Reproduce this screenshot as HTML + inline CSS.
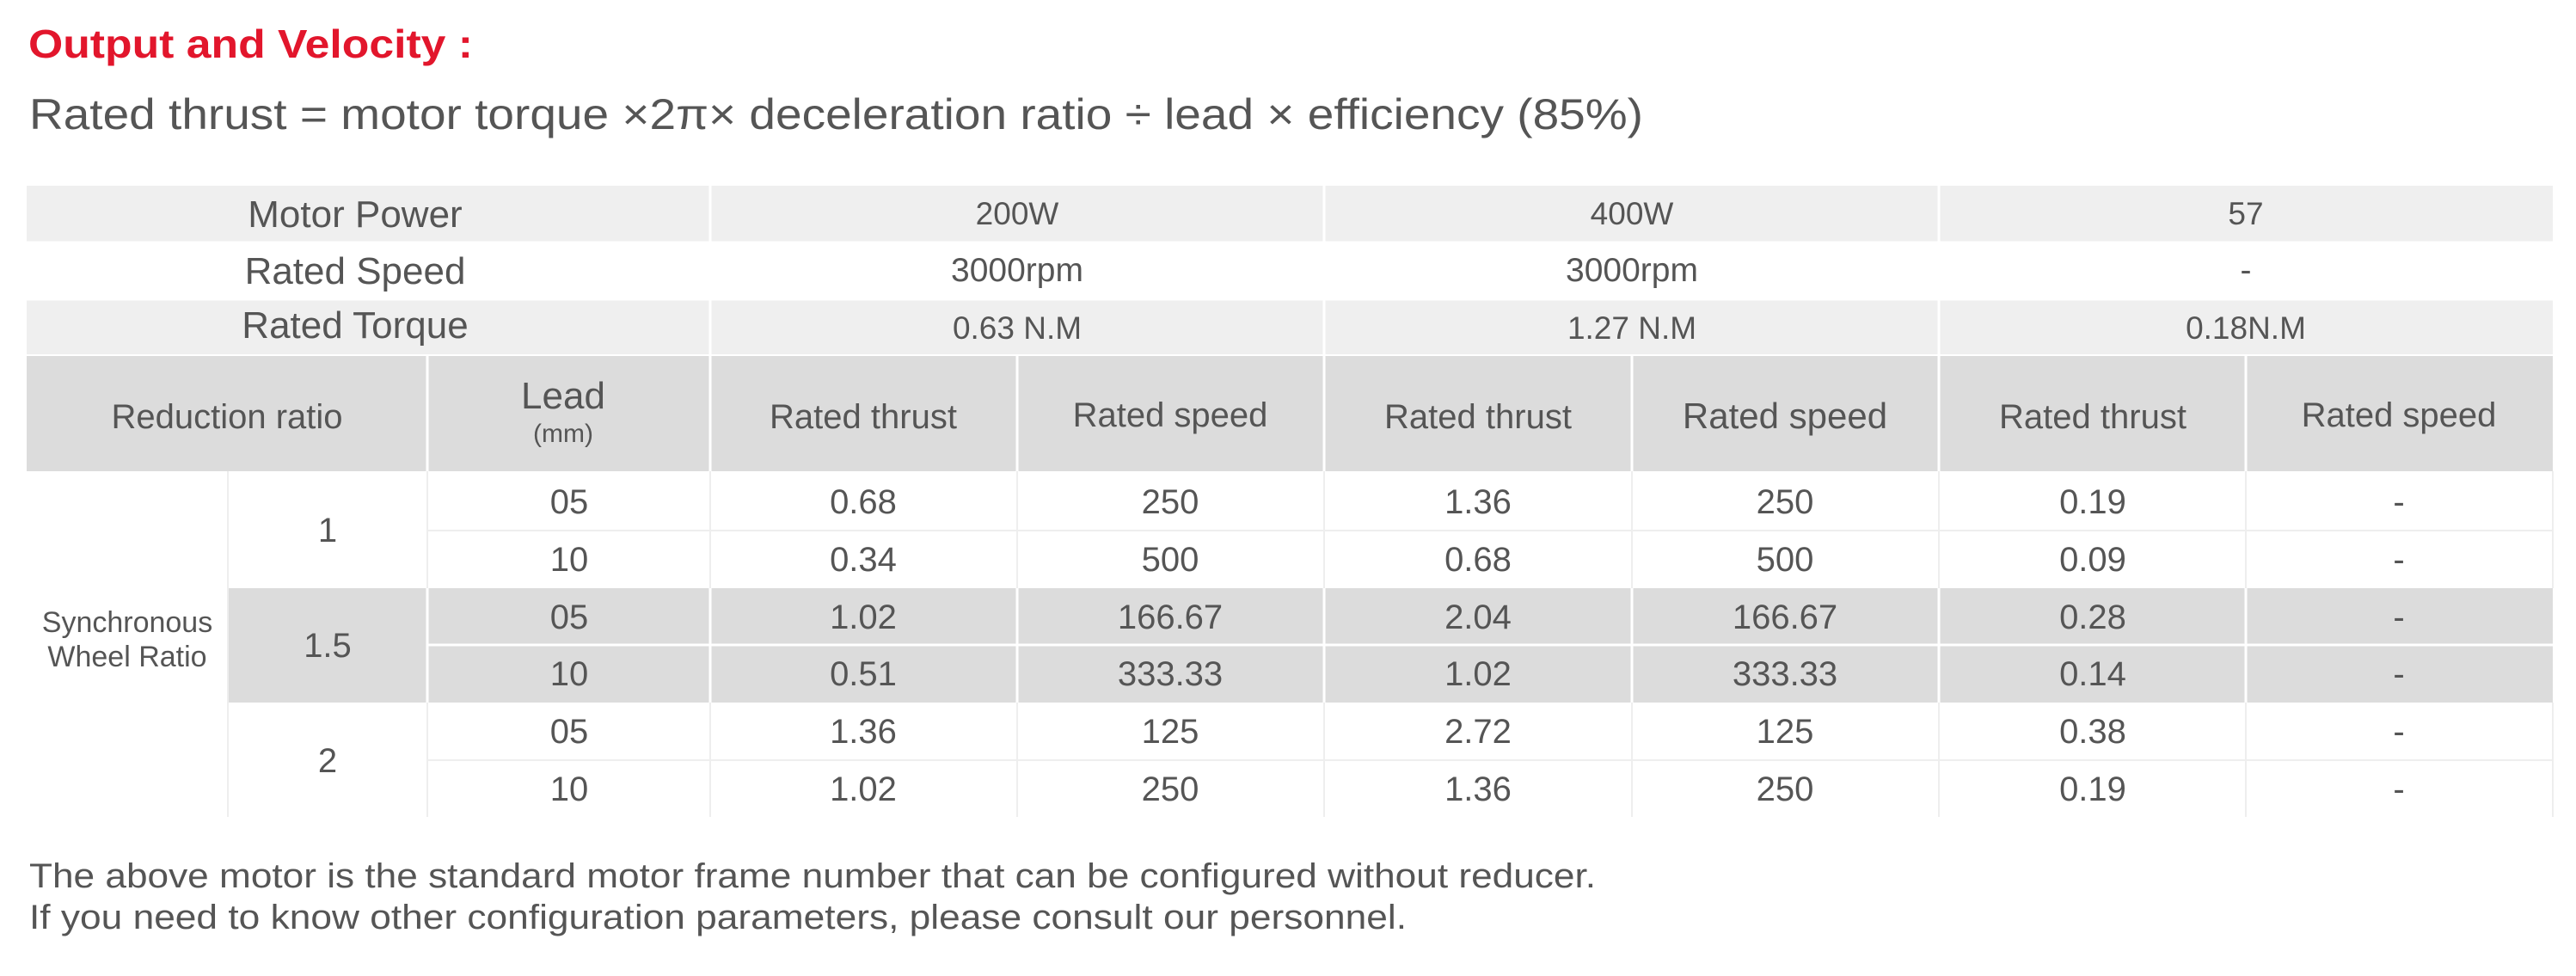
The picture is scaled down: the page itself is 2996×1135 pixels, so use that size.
<!DOCTYPE html>
<html><head><meta charset="utf-8"><style>
html,body{margin:0;padding:0;background:#fff;width:2996px;height:1135px;overflow:hidden}
svg text{font-family:"Liberation Sans",sans-serif;fill:#555}
</style></head><body>
<svg width="2996" height="1135" viewBox="0 0 2996 1135" xmlns="http://www.w3.org/2000/svg">
<rect width="2996" height="1135" fill="#fff"/>
<text x="33" y="67" font-size="46" font-weight="bold" style="fill:#e2162c" textLength="517" lengthAdjust="spacingAndGlyphs">Output and Velocity :</text>
<text x="34" y="150" font-size="50" textLength="1877" lengthAdjust="spacingAndGlyphs">Rated thrust = motor torque ×2π× deceleration ratio ÷ lead × efficiency (85%)</text>

<rect x="31" y="216" width="2938" height="66" fill="#efefef"/>
<rect x="31" y="282" width="2938" height="66" fill="#fff"/>
<rect x="31" y="348" width="2938" height="64" fill="#efefef"/>
<rect x="31" y="414" width="2938" height="134" fill="#dcdcdc"/>
<rect x="265" y="684" width="2704" height="133" fill="#dcdcdc"/>
<g stroke="#fff" stroke-width="3">
<line x1="826" y1="216" x2="826" y2="412"/><line x1="1540" y1="216" x2="1540" y2="412"/><line x1="2255" y1="216" x2="2255" y2="412"/>
<line x1="31" y1="282" x2="2969" y2="282"/><line x1="31" y1="348" x2="2969" y2="348"/>
<line x1="497" y1="414" x2="497" y2="548"/><line x1="826" y1="414" x2="826" y2="548"/><line x1="1183" y1="414" x2="1183" y2="548"/><line x1="1540" y1="414" x2="1540" y2="548"/><line x1="1898" y1="414" x2="1898" y2="548"/><line x1="2255" y1="414" x2="2255" y2="548"/><line x1="2612" y1="414" x2="2612" y2="548"/>
<line x1="497" y1="750" x2="2969" y2="750"/>
<line x1="497" y1="684" x2="497" y2="817"/><line x1="826" y1="684" x2="826" y2="817"/><line x1="1183" y1="684" x2="1183" y2="817"/><line x1="1540" y1="684" x2="1540" y2="817"/><line x1="1898" y1="684" x2="1898" y2="817"/><line x1="2255" y1="684" x2="2255" y2="817"/><line x1="2612" y1="684" x2="2612" y2="817"/>
</g>
<g stroke="#eee" stroke-width="2">
<line x1="265" y1="548" x2="265" y2="950"/>
<line x1="497" y1="548" x2="497" y2="684"/><line x1="826" y1="548" x2="826" y2="684"/><line x1="1183" y1="548" x2="1183" y2="684"/><line x1="1540" y1="548" x2="1540" y2="684"/><line x1="1898" y1="548" x2="1898" y2="684"/><line x1="2255" y1="548" x2="2255" y2="684"/><line x1="2612" y1="548" x2="2612" y2="684"/><line x1="2969" y1="548" x2="2969" y2="684"/>
<line x1="497" y1="817" x2="497" y2="950"/><line x1="826" y1="817" x2="826" y2="950"/><line x1="1183" y1="817" x2="1183" y2="950"/><line x1="1540" y1="817" x2="1540" y2="950"/><line x1="1898" y1="817" x2="1898" y2="950"/><line x1="2255" y1="817" x2="2255" y2="950"/><line x1="2612" y1="817" x2="2612" y2="950"/><line x1="2969" y1="817" x2="2969" y2="950"/>
<line x1="497" y1="617" x2="2969" y2="617"/><line x1="497" y1="884" x2="2969" y2="884"/>
</g>

<g text-anchor="middle">
<text x="413" y="264" font-size="44">Motor Power</text>
<text x="413" y="330" font-size="44">Rated Speed</text>
<text x="413" y="393" font-size="44">Rated Torque</text>
<text x="1183" y="261" font-size="37">200W</text>
<text x="1898" y="261" font-size="37">400W</text>
<text x="2612" y="261" font-size="37">57</text>
<text x="1183" y="327" font-size="39">3000rpm</text>
<text x="1898" y="327" font-size="39">3000rpm</text>
<text x="2612" y="327" font-size="39">-</text>
<text x="1183" y="394" font-size="37">0.63 N.M</text>
<text x="1898" y="394" font-size="37">1.27 N.M</text>
<text x="2612" y="394" font-size="37">0.18N.M</text>

<text x="264" y="498" font-size="40">Reduction ratio</text>
<text x="655" y="475" font-size="44">Lead</text>
<text x="655" y="514" font-size="30">(mm)</text>
<text x="1004" y="498" font-size="40">Rated thrust</text>
<text x="1361" y="496" font-size="40">Rated speed</text>
<text x="1719" y="498" font-size="40">Rated thrust</text>
<text x="2076" y="498" font-size="42">Rated speed</text>
<text x="2434" y="498" font-size="40">Rated thrust</text>
<text x="2790" y="496" font-size="40">Rated speed</text>

<text x="148" y="735" font-size="34">Synchronous</text>
<text x="148" y="775" font-size="34">Wheel Ratio</text>
<text x="381" y="630" font-size="40">1</text>
<text x="381" y="764" font-size="40">1.5</text>
<text x="381" y="898" font-size="40">2</text>
</g>
<g text-anchor="middle" font-size="40">
<text x="662" y="597">05</text><text x="1004" y="597">0.68</text><text x="1361" y="597">250</text><text x="1719" y="597">1.36</text><text x="2076" y="597">250</text><text x="2434" y="597">0.19</text><text x="2790" y="597">-</text>
<text x="662" y="664">10</text><text x="1004" y="664">0.34</text><text x="1361" y="664">500</text><text x="1719" y="664">0.68</text><text x="2076" y="664">500</text><text x="2434" y="664">0.09</text><text x="2790" y="664">-</text>
<text x="662" y="731">05</text><text x="1004" y="731">1.02</text><text x="1361" y="731">166.67</text><text x="1719" y="731">2.04</text><text x="2076" y="731">166.67</text><text x="2434" y="731">0.28</text><text x="2790" y="731">-</text>
<text x="662" y="797">10</text><text x="1004" y="797">0.51</text><text x="1361" y="797">333.33</text><text x="1719" y="797">1.02</text><text x="2076" y="797">333.33</text><text x="2434" y="797">0.14</text><text x="2790" y="797">-</text>
<text x="662" y="864">05</text><text x="1004" y="864">1.36</text><text x="1361" y="864">125</text><text x="1719" y="864">2.72</text><text x="2076" y="864">125</text><text x="2434" y="864">0.38</text><text x="2790" y="864">-</text>
<text x="662" y="931">10</text><text x="1004" y="931">1.02</text><text x="1361" y="931">250</text><text x="1719" y="931">1.36</text><text x="2076" y="931">250</text><text x="2434" y="931">0.19</text><text x="2790" y="931">-</text>
</g>

<text x="34" y="1032" font-size="40" textLength="1822" lengthAdjust="spacingAndGlyphs">The above motor is the standard motor frame number that can be configured without reducer.</text>
<text x="34" y="1080" font-size="40" textLength="1602" lengthAdjust="spacingAndGlyphs">If you need to know other configuration parameters, please consult our personnel.</text>
</svg>
</body></html>
